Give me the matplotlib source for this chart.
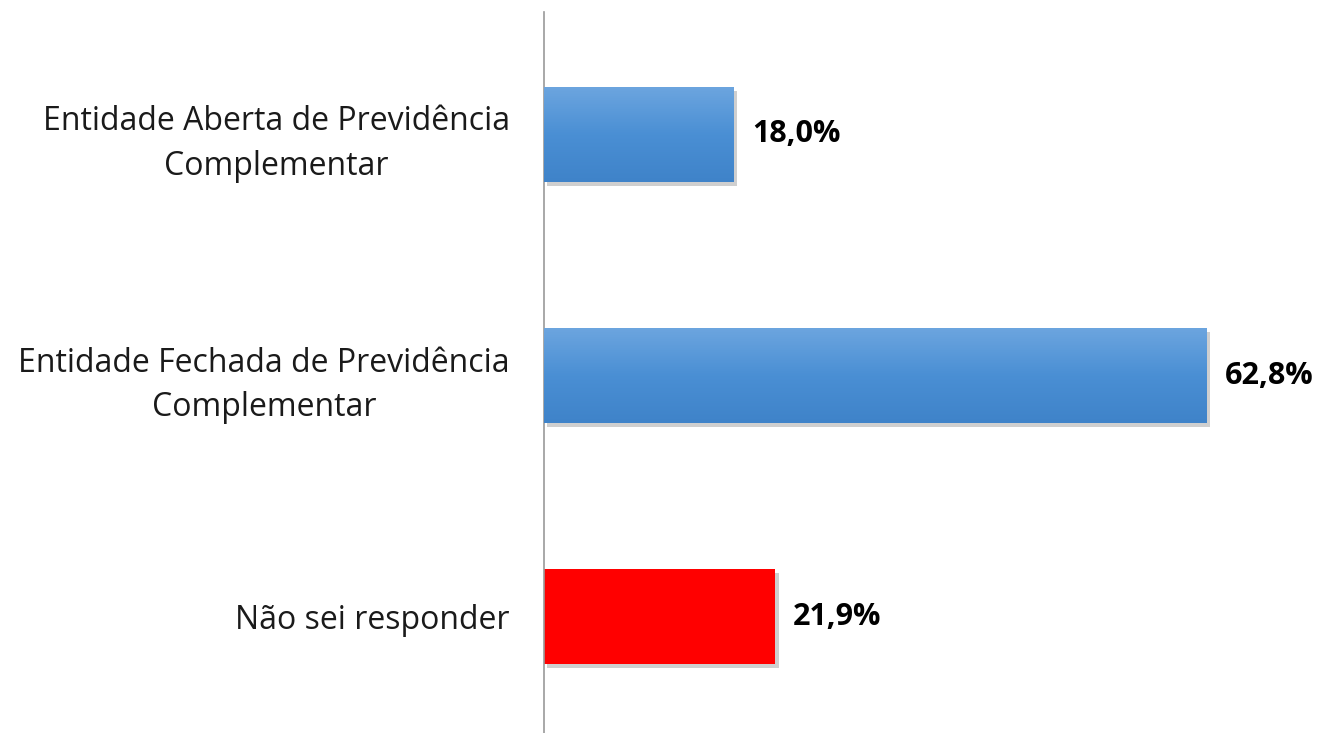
import matplotlib
matplotlib.use("Agg")
import matplotlib.pyplot as plt
import matplotlib.patheffects as pe
import numpy as np
from matplotlib.colors import LinearSegmentedColormap

categories = ["Entidade Aberta de Previdência\nComplementar",
              "Entidade Fechada de Previdência\nComplementar",
              "Não sei responder"]
values = [18.0, 62.8, 21.9]
value_labels = ["18,0%", "62,8%", "21,9%"]
colors = ["blue_grad", "blue_grad", "#FF0000"]

plt.rcParams['font.family'] = ['Open Sans', 'DejaVu Sans']

fig = plt.figure(figsize=(13.19, 7.33), dpi=100)
ax = fig.add_axes([544/1319, 0.0, (1310-544)/1319, (733-12)/733])

ypos = np.arange(len(categories))
bar_h = 0.394
blue_cmap = LinearSegmentedColormap.from_list("b", ["#6CA5DF", "#4A8FD4", "#3F83C9"])
grad = np.linspace(0, 1, 256).reshape(-1, 1)

bars = ax.barh(ypos, values, height=bar_h, color=["#5599D8" if c == "blue_grad" else c for c in colors],
               edgecolor="none", zorder=2)
for b, c in zip(bars, colors):
    b.set_path_effects([pe.SimplePatchShadow(offset=(2.5, -3), shadow_rgbFace="#777777", alpha=0.35), pe.Normal()])
    if c == "blue_grad":
        x0, y0 = b.get_x(), b.get_y()
        w, h = b.get_width(), b.get_height()
        im = ax.imshow(grad, cmap=blue_cmap, aspect="auto", extent=(x0, x0 + w, y0 + h, y0),
                       zorder=3, interpolation="bilinear")
        im.set_clip_path(b)

for y, v, lab in zip(ypos, values, value_labels):
    ax.annotate(lab, xy=(v, y), xytext=(13, 0), textcoords="offset points",
                ha="left", va="center", fontsize=22, fontweight="bold", color="#000000",
                annotation_clip=False)

ax.set_xlim(0, 72.6)
ax.set_ylim(2.483, -0.508)
ax.set_yticks(ypos)
ax.set_yticklabels(categories, fontsize=23, linespacing=1.45, ha="right", multialignment="center",
                   color="#1a1a1a")
ax.tick_params(axis="y", length=0, pad=24.5)
ax.set_xticks([])
for s in ["top", "right", "bottom"]:
    ax.spines[s].set_visible(False)
ax.spines["left"].set_color("#999999")
ax.spines["left"].set_linewidth(1.2)

fig.savefig("out.png", dpi=100)
